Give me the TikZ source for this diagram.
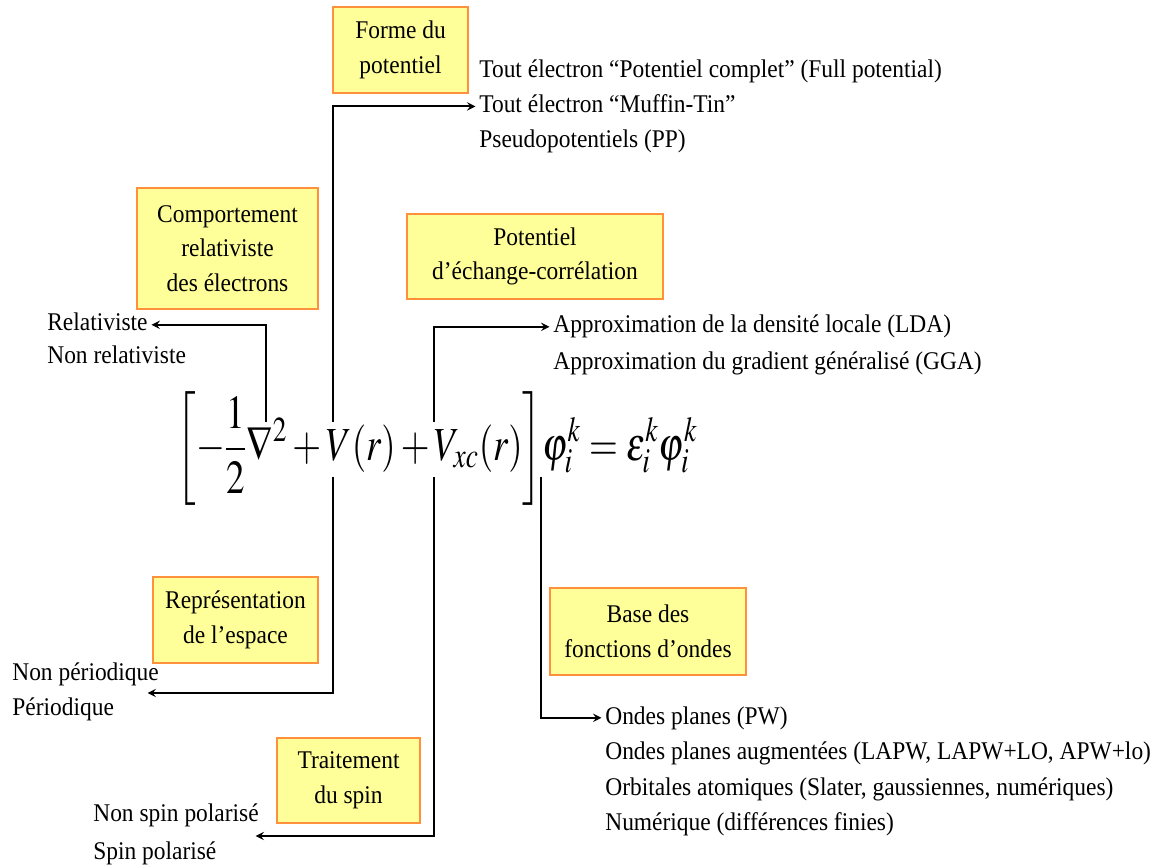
\documentclass[tikz,border=0pt]{standalone}
\usepackage{mathptmx}
\usepackage{fontspec}
\setmainfont{Liberation Serif}[FakeStretch=0.92]
\usepackage{tikz}
\usetikzlibrary{positioning}

\definecolor{boxfill}{RGB}{255,255,153}
\definecolor{boxline}{RGB}{255,145,60}
\newcommand{\diagfont}{\fontsize{14.5}{19.8}\selectfont}

\tikzset{
  box/.style={draw=boxline, fill=boxfill, line width=1pt, align=center, inner sep=2pt, font=\diagfont},
  item/.style={inner sep=0pt, text height=10pt, text depth=3pt, font=\diagfont},
  link/.style={line width=1.1pt, -stealth, shorten >=2pt}
}

\begin{document}
\begin{tikzpicture}[x=0.02cm, y=-0.02cm]
		\useasboundingbox (0,0) rectangle (1171,868);
		
		% Kohn-Sham equation
		\node [inner sep=0pt, font={\fontsize{27}{32}\selectfont}] (eq) at (437,449)
		{\scalebox{0.78}[1]{$\displaystyle \left[-\frac{1}{2}\nabla^2+V(r)+V_{xc}(r)\right]\!\varphi_i^k=\varepsilon_i^k\varphi_i^k$}};
		
		\coordinate (nablaTop) at (266,422);
		\coordinate (potTop) at (333,422);
		\coordinate (potBot) at (333,477);
		\coordinate (xcTop) at (434,422);
		\coordinate (xcBot) at (434,477);
		\coordinate (phiBot) at (541,477);
		
		% Boxes
		\node [box,
		minimum width=2.7cm,
		minimum height=1.72cm
		] (forme) at (400.5,50) {Forme du\\potentiel};
		
		\node [box,
		minimum width=3.62cm,
		minimum height=2.42cm
		] (relat) at (227.5,248.5) {Comportement\\relativiste\\des électrons};
		
		\node [box,
		minimum width=5.12cm,
		minimum height=1.7cm
		] (xcpot) at (535,256.5) {Potentiel\\d’échange-corrélation};
		
		\node [box,
		minimum width=3.3cm,
		minimum height=1.72cm
		] (espace) at (235.5,620) {Représentation\\de l’espace};
		
		\node [box,
		minimum width=2.86cm,
		minimum height=1.7cm
		] (spin) at (348.5,780.5) {Traitement\\du spin};
		
		\node [box,
		minimum width=3.92cm,
		minimum height=1.74cm
		] (base) at (648,631.5) {Base des\\fonctions d’ondes};
		
		% Forme du potentiel
		\node [item, anchor=base west] (fp1) at (479,78) {Tout électron “Potentiel complet” (Full potential)};
		\node [item, below=0.22cm of fp1.south west, anchor=north west] (fp2) {Tout électron “Muffin-Tin”};
		\node [item, below=0.22cm of fp2.south west, anchor=north west] (fp3) {Pseudopotentiels (PP)};
		
		% Relativiste
		\node [item, anchor=base west] (rel1) at (47,331) {Relativiste};
		\node [item, below=0.18cm of rel1.south west, anchor=north west] (rel2) {Non relativiste};
		
		% Echange-correlation
		\node [item, anchor=base west] (lda1) at (553,333) {Approximation de la densité locale (LDA)};
		\node [item, below=0.26cm of lda1.south west, anchor=north west] (lda2) {Approximation du gradient généralisé (GGA)};
		
		% Espace
		\node [item, anchor=base west] (per1) at (12,680) {Non périodique};
		\node [item, below=0.24cm of per1.south west, anchor=north west] (per2) {Périodique};
		\coordinate (perIn) at (144,693);
		
		% Spin
		\node [item, anchor=base west] (spin1) at (93,821) {Non spin polarisé};
		\node [item, below=0.3cm of spin1.south west, anchor=north west] (spin2) {Spin polarisé};
		\coordinate (spinIn) at (252,836);
		
		% Fonctions d'ondes
		\node [item, anchor=base west] (ond1) at (605,724) {Ondes planes (PW)};
		\node [item, below=0.24cm of ond1.south west, anchor=north west] (ond2) {Ondes planes augmentées (LAPW, LAPW+LO, APW+lo)};
		\node [item, below=0.24cm of ond2.south west, anchor=north west] (ond3) {Orbitales atomiques (Slater, gaussiennes, numériques)};
		\node [item, below=0.24cm of ond3.south west, anchor=north west] (ond4) {Numérique (différences finies)};
		
		\draw [link] (potTop) |- (fp2.west);
		
		\draw [link] (nablaTop) |- (rel1.east);
		
		\draw [link] (xcTop) |- (lda1.west);
		
		\draw [link] (potBot) |- (perIn);
		
		\draw [link] (xcBot) |- (spinIn);
		
		\draw [link] (phiBot) |- (ond1.west);
		
\end{tikzpicture}
\end{document}
